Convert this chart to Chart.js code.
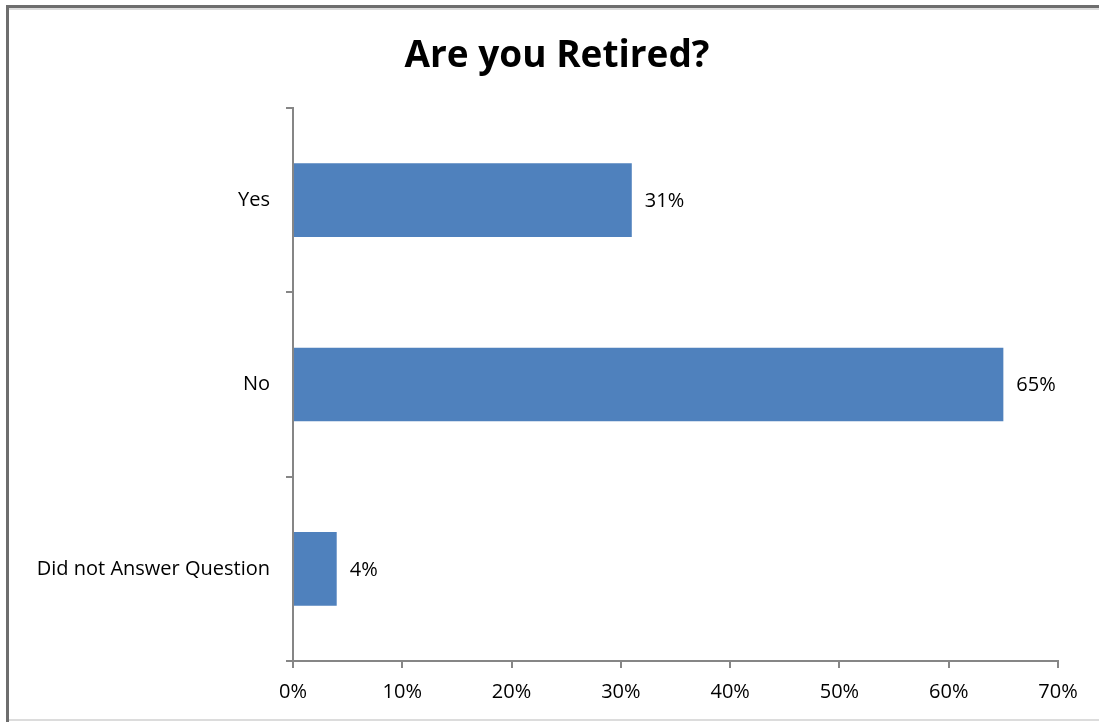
<!DOCTYPE html>
<html>
<head>
<meta charset="utf-8">
<script src="https://cdn.jsdelivr.net/npm/chart.js@4"></script>
<style>
  html, body { margin: 0; padding: 0; background: #fff; }
  #wrap { position: relative; width: 1099px; height: 722px; }
</style>
</head>
<body>
<div id="wrap"><canvas id="retiredChart" width="1099" height="722"></canvas></div>
<script>
const chartTitle = 'Are you Retired?';
const categories = ['Yes', 'No', 'Did not Answer Question'];
const percentages = [31, 65, 4];
const xTicks = [0, 10, 20, 30, 40, 50, 60, 70];

const FONT = '"Open Sans", "DejaVu Sans", sans-serif';
const AXIS_GRAY = '#868686';

// outer frame: heavy gray on top/left, faint line at the bottom
const framePlugin = {
    id: 'frame',
    beforeDraw(chart) {
        const c = chart.ctx;
        c.save();
        c.fillStyle = '#fff';
        c.fillRect(0, 0, chart.width, chart.height);
        c.fillStyle = '#dcdcdc';
        c.fillRect(7, 8, chart.width - 7, 2);
        c.fillRect(9, 719, chart.width - 9, 2);
        c.fillStyle = '#6e6e6e';
        c.fillRect(7, 5, chart.width - 7, 3);
        c.fillRect(6, 5, 3, 717);
        c.restore();
    }
};

// title centred over the plot rather than the whole canvas
const titlePlugin = {
    id: 'centredTitle',
    afterDraw(chart) {
        const c = chart.ctx;
        c.save();
        c.font = 'bold 37px ' + FONT;
        c.fillStyle = '#000';
        c.textAlign = 'center';
        c.textBaseline = 'middle';
        c.fillText(chartTitle, 557, 56);
        c.restore();
    }
};

// value labels to the right of each bar
const barLabels = {
    id: 'barLabels',
    afterDatasetsDraw(chart) {
        const c = chart.ctx;
        const meta = chart.getDatasetMeta(0);
        c.save();
        c.font = '20px ' + FONT;
        c.fillStyle = '#000';
        c.textAlign = 'left';
        c.textBaseline = 'middle';
        meta.data.forEach((bar, i) => {
            c.fillText(percentages[i] + '%', bar.x + 13, bar.y + 1);
        });
        c.restore();
    }
};

new Chart(document.getElementById('retiredChart').getContext('2d'), {
    type: 'bar',
    data: {
        labels: categories,
        datasets: [{
            data: percentages,
            backgroundColor: '#4F81BD',
            borderWidth: 0,
            categoryPercentage: 1,
            barPercentage: 0.4
        }]
    },
    options: {
        indexAxis: 'y',
        responsive: false,
        animation: false,
        layout: { padding: { left: 0, right: 41, top: 108, bottom: 0 } },
        plugins: {
            legend: { display: false },
            tooltip: { enabled: false },
            title: { display: false }
        },
        scales: {
            x: {
                min: 0,
                max: 70,
                afterBuildTicks(scale) {
                    scale.ticks = xTicks.map(v => ({ value: v }));
                },
                afterFit(scale) { scale.height = 61; },
                ticks: {
                    color: '#000',
                    padding: 12,
                    font: { family: FONT, size: 20 },
                    callback: v => v + '%'
                },
                grid: {
                    drawOnChartArea: false,
                    drawTicks: true,
                    tickLength: 7,
                    color: AXIS_GRAY,
                    lineWidth: 2
                },
                border: { display: true, color: AXIS_GRAY, width: 2 }
            },
            y: {
                afterFit(scale) { scale.width = 293; },
                ticks: {
                    color: '#000',
                    padding: 16,
                    font: { family: FONT, size: 20 }
                },
                grid: {
                    offset: true,
                    drawOnChartArea: false,
                    drawTicks: true,
                    tickLength: 7,
                    color: AXIS_GRAY,
                    lineWidth: 2
                },
                border: { display: true, color: AXIS_GRAY, width: 2 }
            }
        }
    },
    plugins: [framePlugin, titlePlugin, barLabels]
});
</script>
</body>
</html>
